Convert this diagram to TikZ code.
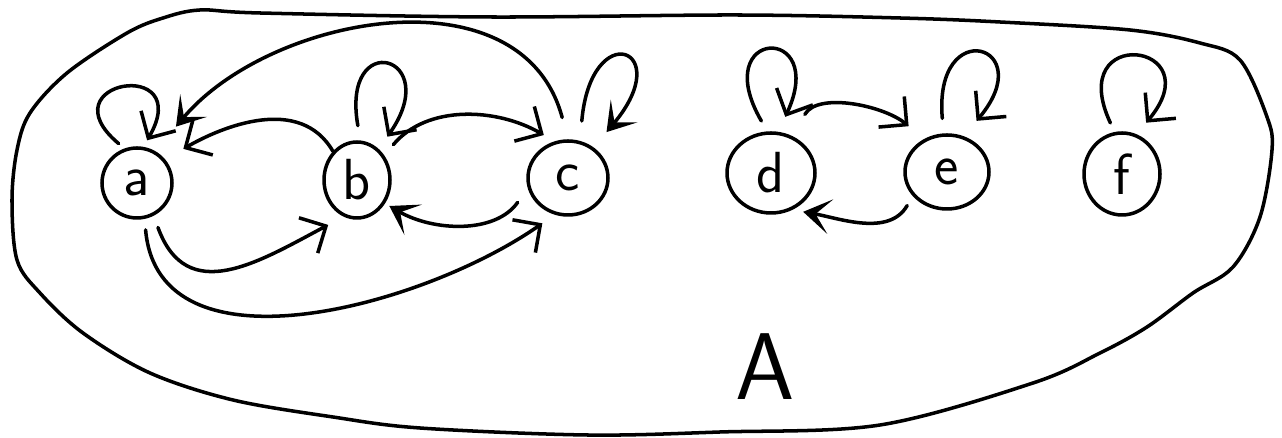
\documentclass[tikz,border=0pt]{standalone}
\usetikzlibrary{arrows.meta,shapes.geometric}
\begin{document}
\begin{tikzpicture}[x=0.02cm,y=0.02cm,line width=2pt,line cap=round,
  vertex/.style={draw,ellipse,inner sep=0pt,font=\sffamily\fontsize{33}{38}\selectfont},
  arr/.style={-{Straight Barb[length=4mm,width=8mm]}},
  boldarr/.style={-{Stealth[length=5.5mm,width=7mm,inset=3mm]}}]
\useasboundingbox (0,0) rectangle (1282,438);
% the set A
\draw plot[smooth cycle,tension=0.55] coordinates {(163,420) (200,428) (260,425) (490,421) (736,423) (900,420) (1000,416) (1130,408) (1200,395) (1240,378) (1267,321) (1272,288) (1260,221) (1233,171) (1193,145) (1147,111) (1100,85) (1033,55) (880,13) (720,6) (587,3) (420,10) (333,21) (233,38) (150,65) (83,105) (40,145) (17,178) (12,238) (17,288) (30,325) (67,365) (127,405)};
\node[font=\sffamily\fontsize{54}{60}\selectfont] (setA) at (765,71) {A};
% elements
\node[vertex,minimum width=1.4cm,minimum height=1.4cm] (a) at (137,255) {a};
\node[vertex,minimum width=1.32cm,minimum height=1.52cm] (b) at (357,258) {b};
\node[vertex,minimum width=1.6cm,minimum height=1.48cm] (c) at (568,260) {c};
\node[vertex,minimum width=1.76cm,minimum height=1.6cm] (d) at (771,265) {d};
\node[vertex,minimum width=1.68cm,minimum height=1.48cm] (e) at (947,266) {e};
\node[vertex,minimum width=1.52cm,minimum height=1.64cm] (f) at (1122,264) {f};
% loops
\draw[arr,shorten <=1.5mm,shorten >=1.5mm] (a.110) .. controls +(140:105) and +(60:105) .. (a.80);
\draw[arr,shorten <=3mm,shorten >=3mm] (b.85) .. controls +(100:115) and +(55:115) .. (b.55);
\draw[boldarr,shorten <=4mm,shorten >=4mm] (c.72) .. controls +(85:125) and +(50:130) .. (c.50);
\draw[arr,shorten <=2.4mm,shorten >=3.3mm] (d.95) .. controls +(120:120) and +(65:120) .. (d.80);
\draw[arr,shorten <=3mm,shorten >=4mm] (e.95) .. controls +(95:120) and +(50:120) .. (e.65);
\draw[arr,shorten <=2mm,shorten >=3mm] (f.100) .. controls +(115:120) and +(50:120) .. (f.70);
% relation
\draw[boldarr,shorten <=4.5mm,shorten >=6.4mm] (c.90) to[out=105,in=50,looseness=1.1] (a.60);
\draw[arr,shorten >=4.2mm] (b.130) to[out=120,in=30] (a.40);
\draw[arr,shorten <=2.8mm,shorten >=2.5mm] (b.42) to[out=50,in=150] (c.110);
\draw[boldarr,shorten <=3.5mm,shorten >=1mm] (c.194) to[out=235,in=-30] (b.-40);
\draw[arr,shorten <=2.5mm,shorten >=3.5mm] (a.-63) to[out=-70,in=208,looseness=1.3] (b.-110);
\draw[arr,shorten <=2.2mm,shorten >=3mm] (a.-78) to[out=-85,in=215] (c.-110);
\draw[arr,shorten <=5mm,shorten >=4mm] (d.60) to[out=60,in=140] (e.125);
\draw[boldarr,shorten <=2.2mm,shorten >=2.2mm] (e.215) to[out=240,in=-10] (d.-60);
\end{tikzpicture}
\end{document}
